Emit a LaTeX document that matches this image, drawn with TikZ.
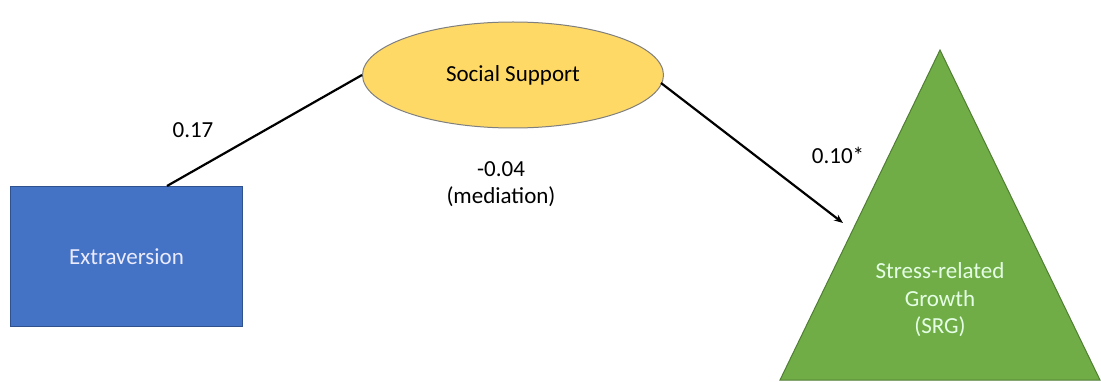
\documentclass[tikz,border=0pt]{standalone}
\usepackage{fontspec}
\setmainfont{Carlito}
\usetikzlibrary{shapes.geometric,arrows.meta}
\definecolor{boxblue}{HTML}{4472C4}
\definecolor{boxblueb}{HTML}{2F528F}
\definecolor{ssyellow}{HTML}{FFD966}
\definecolor{ssborder}{HTML}{7F7F7F}
\definecolor{srggreen}{HTML}{70AD47}
\definecolor{srgborder}{HTML}{507E32}
\tikzset{
  lbl/.style={font=\fontsize{23}{27}\selectfont, text=black, inner sep=0pt},
  path/.style={line width=2.2pt, black},
}
\begin{document}
\begin{tikzpicture}[x=1pt,y=-1pt]
\useasboundingbox (0,0) rectangle (1101,382);
\node[draw=boxblueb, fill=boxblue, line width=1pt, minimum width=232pt, minimum height=140pt, anchor=north west,
      text=white!92!blue, font=\fontsize{23}{27}\selectfont] (ext) at (10,186) {Extraversion};
\node[ellipse, draw=ssborder, fill=ssyellow, line width=1pt, minimum width=301pt, minimum height=106pt,
      font=\fontsize{23}{27}\selectfont] (ss) at (513,75) {Social Support};
\path[draw=srgborder, fill=srggreen, line width=1pt] (940,50) coordinate (apex) -- (1100,380) -- (780,380) -- cycle;
\node[align=center, text=white!90!green, font=\fontsize{23}{27.5}\selectfont, inner sep=0pt] (srg) at (940,300) {Stress-related\\Growth\\(SRG)};
\coordinate (e1) at (167,186);
\coordinate (s1) at (362,75);
\coordinate (s2) at (661,83);
\coordinate (t1) at (843,223);
\draw[path] (e1) -- (s1);
\draw[path, -{Stealth[length=9pt,width=7pt]}] (s2) -- (t1);
\node[lbl] (l1) at (193,130) {0.17};
\node[lbl, align=center] (l2) at (501,184) {-0.04\\(mediation)};
\node[lbl] (l3) at (838,155) {0.10*};
\end{tikzpicture}
\end{document}
